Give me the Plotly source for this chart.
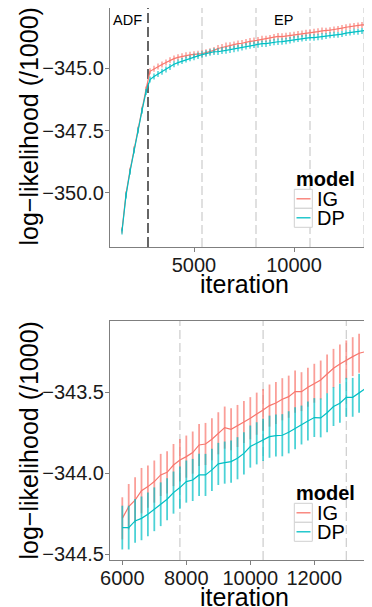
import plotly.graph_objects as go

# ---------------- data ----------------
models = ["IG", "DP"]
model_colors = {"IG": "#F8766D", "DP": "#00BFC4"}
model_err_colors = {"IG": "rgba(248,118,109,0.7)", "DP": "rgba(0,191,196,0.7)"}

# early iterations (ADF phase + start of EP), only in the top panel
iter_early = [1400, 1600, 1800, 2000, 2200, 2400, 2600, 2800, 3000, 3200, 3400, 3600,
              3800, 4000, 4200, 4400, 4600, 4800, 5000, 5200, 5400, 5600, 5800]
ig_early = [-351.50, -350.05, -349.10, -348.25, -347.45, -346.65, -345.85, -345.12,
            -345.02, -344.93, -344.85, -344.77, -344.68, -344.61, -344.56, -344.52,
            -344.48, -344.46, -344.44, -344.43, -344.41, -344.37, -344.33]
dp_early = [-351.55, -350.10, -349.15, -348.30, -347.50, -346.70, -345.95, -345.45,
            -345.33, -345.23, -345.14, -345.05, -344.95, -344.84, -344.77, -344.71,
            -344.65, -344.60, -344.55, -344.50, -344.45, -344.41, -344.37]
ig_err_early = [0.12, 0.12, 0.12, 0.12, 0.12, 0.12, 0.12, 0.12, 0.12, 0.12, 0.12, 0.12,
                0.12, 0.12, 0.12, 0.12, 0.12, 0.12, 0.12, 0.13, 0.13, 0.13, 0.13]
dp_err_early = [0.12, 0.12, 0.12, 0.12, 0.12, 0.12, 0.12, 0.12, 0.12, 0.12, 0.12, 0.12,
                0.12, 0.12, 0.12, 0.12, 0.12, 0.12, 0.13, 0.13, 0.13, 0.13, 0.13]

# later iterations (shown in both panels)
iter_late = [6000, 6200, 6400, 6600, 6800, 7000, 7200, 7400, 7600, 7800, 8000, 8200,
             8400, 8600, 8800, 9000, 9200, 9400, 9600, 9800, 10000, 10200, 10400,
             10600, 10800, 11000, 11200, 11400, 11600, 11800, 12000, 12200, 12400,
             12600, 12800, 13000, 13200, 13400, 13600]
ig_late = [-344.278, -344.206, -344.165, -344.107, -344.082, -344.051, -344.010,
           -343.994, -343.949, -343.918, -343.897, -343.872, -343.825, -343.819,
           -343.790, -343.753, -343.718, -343.728, -343.708, -343.683, -343.660,
           -343.632, -343.609, -343.582, -343.566, -343.543, -343.527, -343.496,
           -343.496, -343.469, -343.444, -343.424, -343.387, -343.352, -343.325,
           -343.300, -343.280, -343.259, -343.249]
dp_late = [-344.335, -344.335, -344.294, -344.278, -344.253, -344.222, -344.191,
           -344.160, -344.119, -344.088, -344.051, -344.041, -344.010, -344.010,
           -343.979, -343.942, -343.934, -343.928, -343.907, -343.877, -343.835,
           -343.815, -343.794, -343.774, -343.767, -343.765, -343.747, -343.722,
           -343.702, -343.677, -343.656, -343.658, -343.626, -343.588, -343.568,
           -343.531, -343.531, -343.506, -343.477]
ig_err_late = [0.13, 0.14, 0.14, 0.14, 0.13, 0.13, 0.13, 0.13, 0.13, 0.13, 0.13, 0.13,
               0.13, 0.13, 0.13, 0.13, 0.13, 0.13, 0.13, 0.13, 0.13, 0.13, 0.13, 0.13,
               0.13, 0.13, 0.13, 0.13, 0.12, 0.12, 0.12, 0.12, 0.12, 0.12, 0.12, 0.12,
               0.12, 0.12, 0.12]
dp_err_late = [0.135, 0.135, 0.135, 0.135, 0.135, 0.135, 0.135, 0.13, 0.13, 0.13, 0.13,
               0.13, 0.13, 0.13, 0.13, 0.13, 0.13, 0.13, 0.13, 0.13, 0.13, 0.13, 0.13,
               0.13, 0.13, 0.13, 0.13, 0.13, 0.12, 0.12, 0.12, 0.12, 0.12, 0.12, 0.12,
               0.12, 0.12, 0.12, 0.12]

# phase markers
adf_end = 2700
epoch_lines_top = [5400, 8100, 10800, 13500]
epoch_lines_bottom = [7800, 10400, 13000]

top_yticks = [-345.0, -347.5, -350.0]
bottom_yticks = [-343.5, -344.0, -344.5]
top_xticks = [5000, 10000]
bottom_xticks = [6000, 8000, 10000, 12000]

# ---------------- figure ----------------
# the page body has an 8px margin, so the figure is laid out in page coordinates minus 8
OFF = 8
W, H = 372 - OFF, 607 - OFF
ML, MR, MT, MB = 110 - OFF, 0, 0, 607 - 560
PW, PH = W - ML - MR, H - MT - MB
FONT = "Liberation Sans, Arial, Helvetica, sans-serif"


def px_x(px):
    return (px - OFF - ML) / PW


def px_y(py):
    return (H - MB - (py - OFF)) / PH


series = {
    "IG": (ig_early + ig_late, ig_err_early + ig_err_late, ig_late, ig_err_late),
    "DP": (dp_early + dp_late, dp_err_early + dp_err_late, dp_late, dp_err_late),
}
iter_all = iter_early + iter_late

fig = go.Figure()
for m in models:
    y_all, e_all, y_late, e_late = series[m]
    fig.add_trace(go.Scatter(
        x=iter_all, y=y_all, mode="lines", name=m, showlegend=False,
        line=dict(color=model_colors[m], width=1.2),
        error_y=dict(type="data", array=e_all, visible=True, width=0,
                     thickness=1.5, color=model_err_colors[m]),
        xaxis="x", yaxis="y"))
    fig.add_trace(go.Scatter(
        x=iter_late, y=y_late, mode="lines", name=m, showlegend=False,
        line=dict(color=model_colors[m], width=1.2),
        error_y=dict(type="data", array=e_late, visible=True, width=0,
                     thickness=1.8, color=model_err_colors[m]),
        xaxis="x2", yaxis="y2"))

top_dom = [px_y(247), 1.0]
bot_dom = [px_y(560), px_y(321)]

axis_common = dict(
    showgrid=False, zeroline=False, showline=True, linecolor="#7f7f7f", linewidth=1,
    ticks="outside", ticklen=4, tickcolor="#7f7f7f", tickwidth=1,
    tickfont=dict(family=FONT, size=20, color="#1a1a1a"),
)

fig.update_layout(
    width=W, height=H,
    margin=dict(l=ML, r=MR, t=MT, b=MB, autoexpand=False),
    paper_bgcolor="white", plot_bgcolor="white",
    font=dict(family=FONT, color="black"),
    xaxis=dict(axis_common, domain=[0, 1], range=[800, 13900], tickvals=top_xticks,
               tickformat="d", mirror=True, anchor="y", ticklabelstandoff=-4),
    yaxis=dict(axis_common, domain=top_dom, range=[-352.17, -342.58], tickvals=top_yticks,
               tickformat=".1f", anchor="x", ticklabelstandoff=-3),
    xaxis2=dict(axis_common, domain=[0, 1], range=[5615.6, 13803], tickvals=bottom_xticks,
                tickformat="d", mirror=True, anchor="y2", ticklabelstandoff=-4),
    yaxis2=dict(axis_common, domain=bot_dom, range=[-344.535, -343.06], tickvals=bottom_yticks,
                tickformat=".1f", anchor="x2", ticklabelstandoff=-3),
)

shapes = []
# ADF / EP boundary and epoch lines
shapes.append(dict(type="line", xref="x", yref="y domain", x0=adf_end, x1=adf_end, y0=0, y1=1,
                   line=dict(color="black", width=1.2, dash="10px,4px"), layer="below"))
for v in epoch_lines_top:
    shapes.append(dict(type="line", xref="x", yref="y domain", x0=v, x1=v, y0=0, y1=1,
                       line=dict(color="#cccccc", width=1.2, dash="9px,4px"), layer="below"))
for v in epoch_lines_bottom:
    shapes.append(dict(type="line", xref="x2", yref="y2 domain", x0=v, x1=v, y0=0, y1=1,
                       line=dict(color="#cccccc", width=1.2, dash="9px,4px"), layer="below"))

annotations = []
# phase labels
annotations.append(dict(text="ADF", xref="x", yref="paper", x=1675, y=px_y(19.5),
                        showarrow=False, xanchor="center", yanchor="middle",
                        font=dict(family=FONT, size=14.5, color="black")))
annotations.append(dict(text="EP", xref="x", yref="paper", x=9490, y=px_y(19.5),
                        showarrow=False, xanchor="center", yanchor="middle",
                        font=dict(family=FONT, size=14.5, color="black")))

# axis titles
for cy in [126.5, 440.5]:
    annotations.append(dict(text="log\u2212likelihood (/1000)", xref="paper", yref="paper",
                            x=px_x(28), y=px_y(cy), textangle=-90, showarrow=False,
                            xanchor="center", yanchor="middle",
                            font=dict(family=FONT, size=25, color="black")))
for cy in [284, 597]:
    annotations.append(dict(text="iteration", xref="paper", yref="paper",
                            x=px_x(244), y=px_y(cy), showarrow=False,
                            xanchor="center", yanchor="middle",
                            font=dict(family=FONT, size=25, color="black")))

# legends (one per panel)
for dy in [0, 314]:
    annotations.append(dict(text="<b>model</b>", xref="paper", yref="paper",
                            x=px_x(294), y=px_y(178.5 + dy), showarrow=False,
                            xanchor="left", yanchor="middle",
                            font=dict(family=FONT, size=20, color="black")))
    for i, m in enumerate(models):
        top = 189.3 + i * 19 + dy
        bot = top + 19
        mid = (top + bot) / 2
        shapes.append(dict(type="rect", xref="paper", yref="paper",
                           x0=px_x(294.3), x1=px_x(312.3), y0=px_y(bot), y1=px_y(top),
                           line=dict(color="#d0d0d0", width=1), fillcolor="white"))
        shapes.append(dict(type="line", xref="paper", yref="paper",
                           x0=px_x(296.5), x1=px_x(310.5), y0=px_y(mid), y1=px_y(mid),
                           line=dict(color=model_colors[m], width=1.3)))
        annotations.append(dict(text=m, xref="paper", yref="paper",
                                x=px_x(315), y=px_y(mid), showarrow=False,
                                xanchor="left", yanchor="middle",
                                font=dict(family=FONT, size=20, color="black")))

fig.update_layout(shapes=shapes, annotations=annotations)
fig.write_html("out.html")
